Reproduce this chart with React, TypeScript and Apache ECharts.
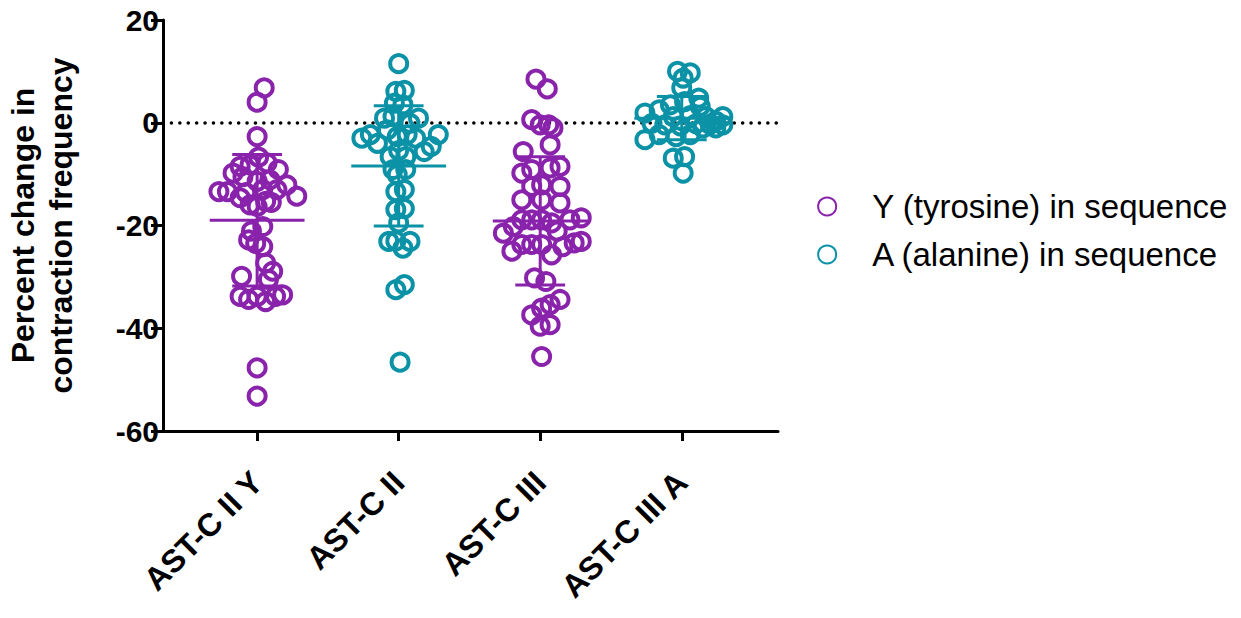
import React, { useEffect, useRef } from "react";
import * as echarts from "echarts";

const categories = ["AST-C II Y", "AST-C II", "AST-C III", "AST-C III A"];
const yTicks = { min: -60, max: 20, interval: 20 };
const seriesNames = ["Y (tyrosine) in sequence", "A (alanine) in sequence"];
const purple = "#8a23ab";
const teal = "#0b92a6";

// [horizontal jitter offset from category, percent change]
const astC2Y: [number, number][] = [
  [0.05, 6.8], [0.0, 4.0], [0.0, -2.7], [0.01, -6.7], [-0.12, -8.5], [-0.05, -8.2],
  [0.07, -7.8], [0.15, -9.1], [-0.17, -9.8], [-0.27, -13.4], [-0.21, -13.4], [0.0, -11.4],
  [0.09, -11.1], [0.21, -12.1], [-0.08, -13.6], [0.04, -13.0], [0.14, -13.0], [0.28, -14.3],
  [-0.12, -14.6], [-0.05, -16.0], [0.06, -15.3], [0.0, -16.3], [0.04, -20.2], [-0.04, -21.1],
  [-0.06, -22.8], [0.04, -24.1], [-0.01, -23.5], [0.06, -27.3], [0.11, -28.9], [-0.11, -29.9],
  [0.08, -30.5], [-0.12, -33.8], [-0.06, -34.4], [0.0, -33.8], [0.06, -34.8], [0.13, -33.8],
  [0.18, -33.5], [0.0, -47.7], [0.0, -53.2], [-0.1, -10.5], [0.1, -15.5],
];
const astC2: [number, number][] = [
  [0.0, 11.5], [-0.02, 6.1], [0.04, 6.3], [-0.03, 3.8], [0.03, 3.5], [-0.1, 0.9],
  [0.14, 0.9], [-0.04, 1.2], [0.08, -0.1], [-0.26, -3.0], [-0.2, -2.3], [-0.15, -4.0],
  [0.28, -2.3], [0.23, -4.6], [0.18, -5.6], [-0.08, -1.4], [-0.01, -2.7], [0.06, -2.3],
  [0.12, -3.0], [-0.06, -6.6], [0.05, -6.6], [0.0, -5.4], [-0.04, -9.1], [0.05, -9.1],
  [-0.01, -10.1], [-0.02, -13.4], [0.04, -13.0], [-0.02, -16.9], [0.04, -16.7], [0.0, -19.5],
  [-0.07, -23.1], [0.08, -23.1], [0.03, -24.4], [-0.02, -23.0], [-0.02, -32.5], [0.04, -31.5],
  [0.01, -46.6],
];
const astC3: [number, number][] = [
  [-0.03, 8.5], [0.05, 6.6], [-0.06, 0.6], [0.0, -0.4], [0.06, -0.4], [0.09, -1.0],
  [0.07, -4.3], [-0.12, -5.6], [-0.13, -9.8], [-0.06, -9.1], [0.07, -8.8], [0.14, -8.5],
  [-0.06, -12.4], [0.01, -12.1], [0.14, -12.4], [-0.13, -15.0], [0.01, -15.0], [0.14, -15.6],
  [-0.13, -18.9], [-0.06, -18.9], [0.01, -18.9], [0.08, -19.5], [0.21, -18.9], [0.29, -18.5],
  [-0.26, -21.5], [-0.19, -20.2], [0.12, -21.1], [0.29, -23.1], [0.24, -23.4], [0.16, -24.1],
  [-0.2, -25.0], [-0.13, -23.7], [-0.06, -23.7], [0.01, -23.7], [0.08, -25.7], [-0.04, -30.2],
  [0.04, -30.9], [0.14, -34.4], [0.07, -35.4], [0.01, -36.1], [-0.06, -37.4], [0.07, -39.3],
  [0.0, -39.6], [0.01, -45.5],
];
const astC3A: [number, number][] = [
  [-0.03, 10.0], [0.06, 9.7], [0.01, 8.7], [0.0, 6.8], [0.12, 4.8], [-0.08, 3.5],
  [0.13, 3.2], [-0.26, 1.9], [-0.16, 2.5], [0.02, 4.1], [-0.06, 1.2], [0.06, 1.4],
  [0.17, 1.2], [0.29, 1.2], [0.24, 0.3], [0.2, -0.3], [-0.21, -0.1], [-0.12, -0.4],
  [-0.01, -0.6], [0.1, -0.2], [0.29, -0.4], [0.24, -1.0], [0.15, -1.0], [-0.26, -3.3],
  [-0.16, -2.3], [-0.04, -2.7], [0.06, -2.3], [-0.06, -6.9], [0.02, -6.6], [0.01, -9.8],
];

// mean and SD per group
const means = [-19.0, -8.4, -19.1, 0.9];
const sds = [12.8, 11.7, 12.5, 4.2];

const place = (pts: [number, number][], cat: number) =>
  pts.map(([dx, v]) => [cat + 1 + dx, v]);

export default function App() {
  const ref = useRef<HTMLDivElement>(null);
  useEffect(() => {
    if (!ref.current) return;
    const chart = echarts.init(ref.current, null, { renderer: "svg" });
    const font = "'Liberation Sans', Arial, Helvetica, sans-serif";

    const errRender = (params: any, api: any) => {
      const x = api.value(0);
      const m = api.value(1);
      const s = api.value(2);
      const c = api.visual("color");
      const mL = api.coord([x - 0.335, m]);
      const mR = api.coord([x + 0.335, m]);
      const uL = api.coord([x - 0.176, m + s]);
      const uR = api.coord([x + 0.176, m + s]);
      const lL = api.coord([x - 0.176, m - s]);
      const lR = api.coord([x + 0.176, m - s]);
      const up = api.coord([x, m + s]);
      const lo = api.coord([x, m - s]);
      const st = { stroke: c, lineWidth: 3 };
      return {
        type: "group",
        children: [
          { type: "line", shape: { x1: up[0], y1: up[1], x2: lo[0], y2: lo[1] }, style: st },
          { type: "line", shape: { x1: mL[0], y1: mL[1], x2: mR[0], y2: mR[1] }, style: st },
          { type: "line", shape: { x1: uL[0], y1: uL[1], x2: uR[0], y2: uR[1] }, style: st },
          { type: "line", shape: { x1: lL[0], y1: lL[1], x2: lR[0], y2: lR[1] }, style: st },
        ],
      };
    };

    const scatterBase = (name: string, color: string, data: number[][]) => ({
      name,
      type: "scatter",
      symbol: "circle",
      symbolSize: 17,
      data,
      itemStyle: { color: "rgba(0,0,0,0)", borderColor: color, borderWidth: 4, opacity: 1 },
      emphasis: { disabled: true },
      z: 3,
    });

    chart.setOption({
      animation: false,
      backgroundColor: "#fff",
      textStyle: { fontFamily: font },
      grid: { left: 163, right: 463, top: 20, bottom: 187, containLabel: false },
      legend: {
        orient: "vertical",
        right: 8,
        top: 185,
        itemWidth: 80,
        itemHeight: 18,
        itemGap: 15,
        icon: "circle",
        data: seriesNames,
        textStyle: { fontSize: 33, color: "#000", fontFamily: font },
      },
      xAxis: {
        type: "value",
        min: 0.335,
        max: 4.68,
        splitLine: { show: false },
        axisLine: { show: true, onZero: false, lineStyle: { color: "#000", width: 3 } },
        axisTick: {
          show: true,
          customValues: [1, 2, 3, 4],
          length: 10,
          lineStyle: { color: "#000", width: 3 },
        },
        axisLabel: {
          show: true,
          customValues: [1, 2, 3, 4],
          rotate: 45,
          margin: 46,
          fontSize: 32,
          fontWeight: "bold",
          color: "#000",
          fontFamily: font,
          formatter: (v: number) => categories[Math.round(v) - 1] ?? "",
        },
      },
      yAxis: {
        type: "value",
        min: yTicks.min,
        max: yTicks.max,
        interval: yTicks.interval,
        splitLine: { show: false },
        axisLine: { show: true, lineStyle: { color: "#000", width: 3 } },
        axisTick: { show: true, length: 12, lineStyle: { color: "#000", width: 3 } },
        axisLabel: { fontSize: 30, fontWeight: "bold", color: "#000", margin: 4, fontFamily: font },
        name: "Percent change in\ncontraction frequency",
        nameLocation: "middle",
        nameGap: 83,
        nameTextStyle: { fontSize: 32, fontWeight: "bold", color: "#000", lineHeight: 38, fontFamily: font },
      },
      series: [
        {
          ...scatterBase(seriesNames[0], purple, [...place(astC2Y, 0), ...place(astC3, 2)]),
          markLine: {
            silent: true,
            symbol: "none",
            animation: false,
            label: { show: false },
            lineStyle: { color: "#000", type: [0.1, 8.3], width: 3.5, cap: "round" },
            data: [{ yAxis: 0 }],
            z: 2,
          },
        },
        scatterBase(seriesNames[1], teal, [...place(astC2, 1), ...place(astC3A, 3)]),
        {
          type: "custom",
          name: "meanY",
          renderItem: errRender,
          itemStyle: { color: purple },
          data: [[1, means[0], sds[0]], [3, means[2], sds[2]]],
          encode: { x: 0, y: 1 },
          z: 4,
          silent: true,
        },
        {
          type: "custom",
          name: "meanA",
          renderItem: errRender,
          itemStyle: { color: teal },
          data: [[2, means[1], sds[1]], [4, means[3], sds[3]]],
          encode: { x: 0, y: 1 },
          z: 4,
          silent: true,
        },
      ],
    });
    return () => chart.dispose();
  }, []);
  return (
    <div
      ref={ref}
      style={{ position: "fixed", left: 0, top: 0, width: 1241, height: 618, background: "#fff" }}
    />
  );
}
